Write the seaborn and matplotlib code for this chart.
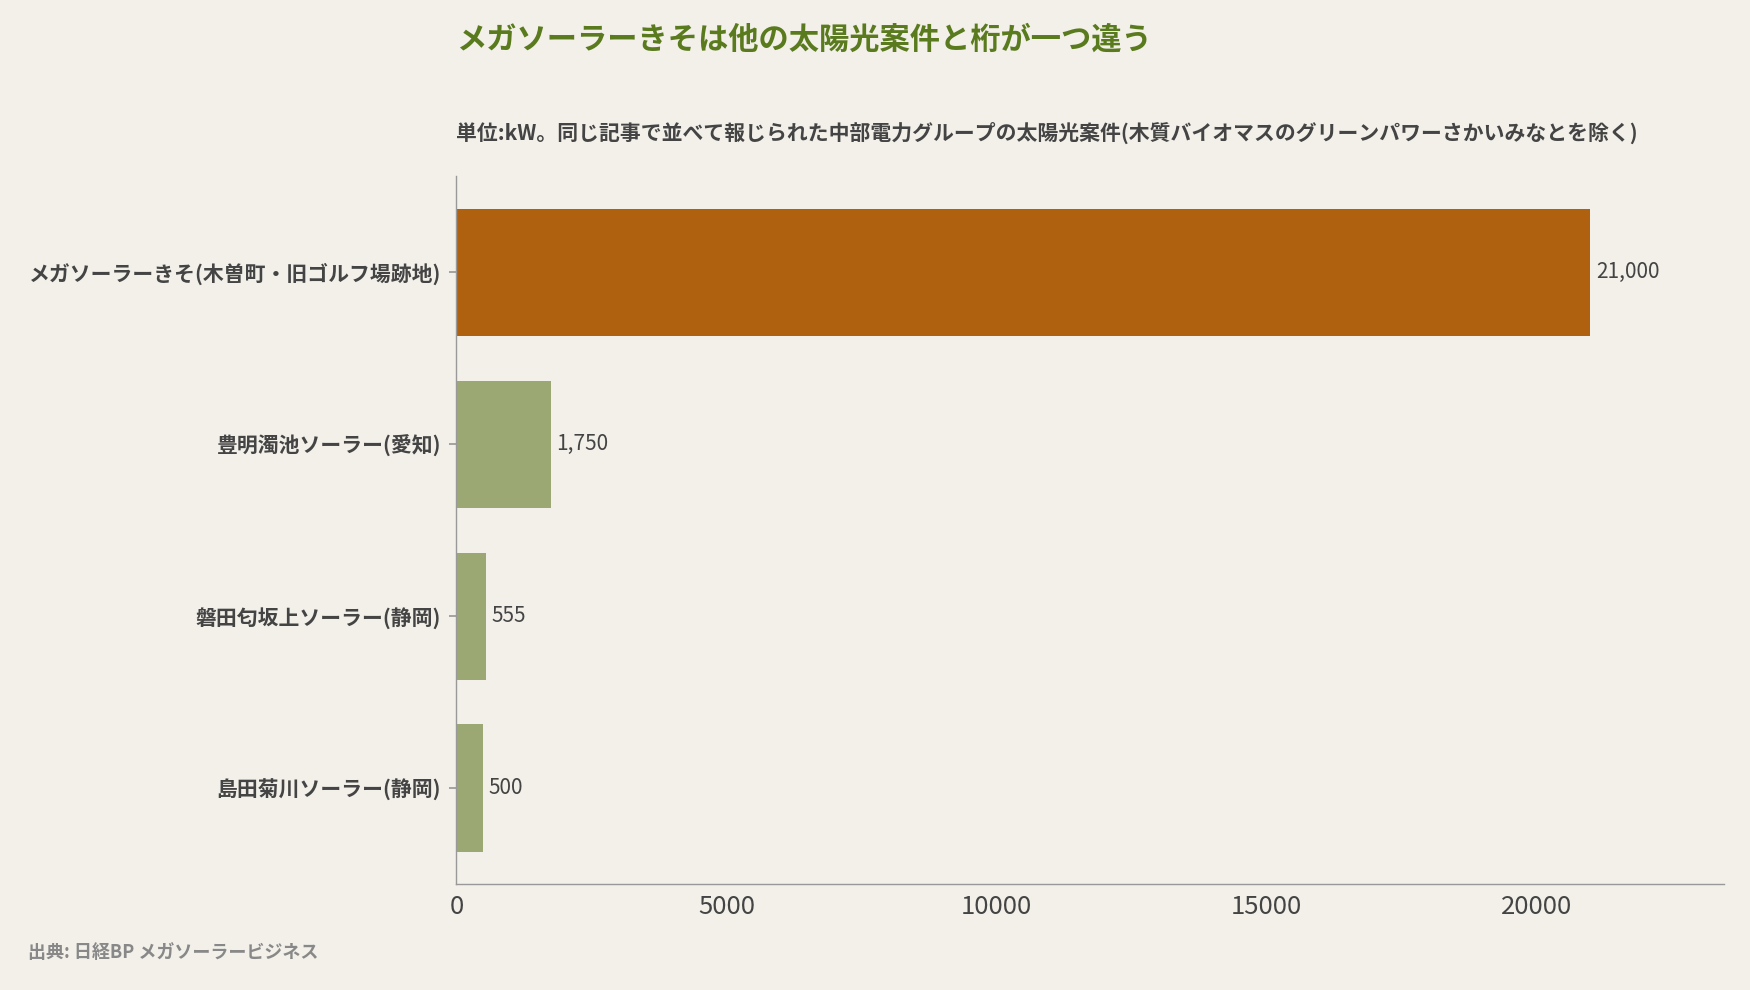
import pandas as pd
import matplotlib.pyplot as plt
import seaborn as sns

# Data
labels = ["メガソーラーきそ(木曽町・旧ゴルフ場跡地)", "豊明濁池ソーラー(愛知)",
          "磐田匂坂上ソーラー(静岡)", "島田菊川ソーラー(静岡)"]
values = [21000, 1750, 555, 500]
value_text = ["21,000", "1,750", "555", "500"]

df = pd.DataFrame({"name": labels, "kW": values})

bg = "#F2F0E9"
sns.set_theme(style="white")
plt.rcParams['font.family'] = ['Noto Sans CJK JP', 'DejaVu Sans']

fig = plt.figure(figsize=(17.5, 9.9), dpi=100, facecolor=bg)
ax = fig.add_axes([0.2608, 0.107, 0.7242, 0.715])
ax.set_facecolor(bg)

palette = ["#B0610F", "#9BA874", "#9BA874", "#9BA874"]
sns.barplot(data=df, x="kW", y="name", hue="name", palette=palette,
            legend=False, width=0.74, saturation=1, linewidth=0, ax=ax)

for i, (v, t) in enumerate(zip(values, value_text)):
    ax.text(v + 100, i, t, va="center", ha="left", fontsize=15, color="#444444")

ax.set_xlim(0, 23470)
ax.set_ylim(3.558, -0.558)
ax.set_xticks([0, 5000, 10000, 15000, 20000])
ax.set_xlabel("")
ax.set_ylabel("")
ax.tick_params(axis="x", labelsize=18.5, colors="#444444", length=4, color="#999999")
ax.tick_params(axis="y", labelsize=15, colors="#444444", length=5, pad=6,
               color="#999999", left=True)
for lab in ax.get_yticklabels():
    lab.set_fontweight("bold")
sns.despine(ax=ax)
for s in ["left", "bottom"]:
    ax.spines[s].set_color("#999999")
    ax.spines[s].set_linewidth(1)

fig.text(0.2608, 0.96, "メガソーラーきそは他の太陽光案件と桁が一つ違う",
         fontsize=21.8, fontweight="bold", color="#5A7A1E", ha="left", va="center")
fig.text(0.2608, 0.866, "単位:kW。同じ記事で並べて報じられた中部電力グループの太陽光案件(木質バイオマスのグリーンパワーさかいみなとを除く)",
         fontsize=15, fontweight="bold", color="#444444", ha="left", va="center")
fig.text(0.016, 0.038, "出典: 日経BP メガソーラービジネス",
         fontsize=13, fontweight="bold", color="#888888", ha="left", va="center")

plt.savefig("out.png", facecolor=bg)
